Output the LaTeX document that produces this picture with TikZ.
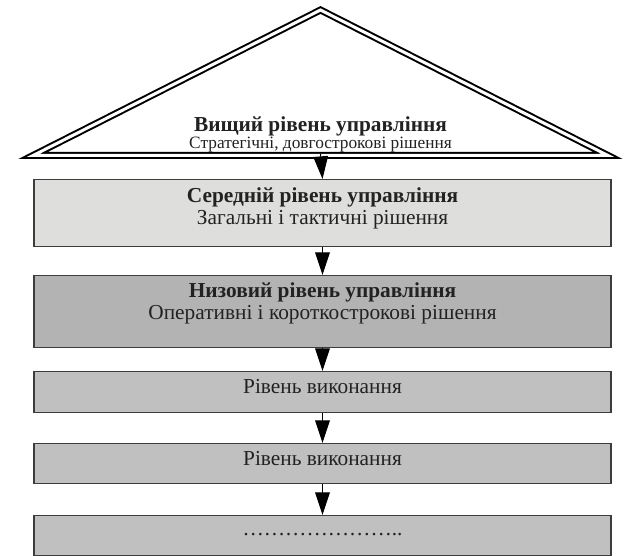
\documentclass[tikz,border=0pt]{standalone}
\usepackage{fontspec}
\setmainfont{Liberation Serif}
\usetikzlibrary{arrows.meta,positioning}
\definecolor{lightgrey}{HTML}{DEDEDC}
\definecolor{midgrey}{HTML}{B3B3B3}
\definecolor{boxgrey}{HTML}{C0C0C0}
\definecolor{edgegrey}{HTML}{3C3C3C}
\definecolor{textgrey}{HTML}{222222}
\tikzset{
    level/.style={draw=edgegrey, line width=1.1pt, minimum width=432.75pt,
        inner sep=0pt, anchor=north, align=center, text=textgrey,
        font=\fontsize{16}{17}\selectfont},
    down/.style={-{Triangle[length=17pt,width=11pt]}, line width=0.8pt},
}

\begin{document}
\begin{tikzpicture}[x=0.75pt, y=-0.75pt]
    \useasboundingbox (0,0) rectangle (624,556);
    % top level
    \coordinate (apex) at (320.5,10);
    \coordinate (left) at (33,155.5);
    \coordinate (right) at (608,155.5);
    \coordinate (base) at (320.5,154);
    \draw[fill=white, line width=1.5pt, double=white, double distance=2.25pt]
        (left) -- (apex) -- (right) -- cycle;
    \node[anchor=base, align=center, text=textgrey] (top) at (320.5,149)
        {\fontsize{16}{14}\selectfont\bfseries Вищий рівень управління\\
         \fontsize{13}{14}\selectfont Стратегічні, довгострокові рішення};
    % lower levels
    \node[level, fill=lightgrey, text height=33.75pt, text depth=16.5pt] (mid) at (322.5,179)
        {\bfseries Середній рівень управління\\ Загальні і тактичні рішення};
    \node[level, fill=midgrey, text height=33pt, text depth=21pt] (low) at (322.5,275)
        {\bfseries Низовий рівень управління\\ Оперативні і короткострокові рішення};
    \node[level, fill=boxgrey, text height=16.5pt, text depth=14.25pt] (exec1) at (322.5,371)
        {Рівень виконання};
    \node[level, fill=boxgrey, text height=16.5pt, text depth=13.5pt] (exec2) at (322.5,443)
        {Рівень виконання};
    \node[level, fill=boxgrey, text height=15pt, text depth=15pt] (rest) at (322.5,515)
        {…………………..};
    % arrows
    \draw[down] (base) -- (mid.north);
    \draw[down] (mid.south) -- (low.north);
    \draw[down] (low.south) -- (exec1.north);
    \draw[down] (exec1.south) -- (exec2.north);
    \draw[down] (exec2.south) -- (rest.north);
\end{tikzpicture}
\end{document}
